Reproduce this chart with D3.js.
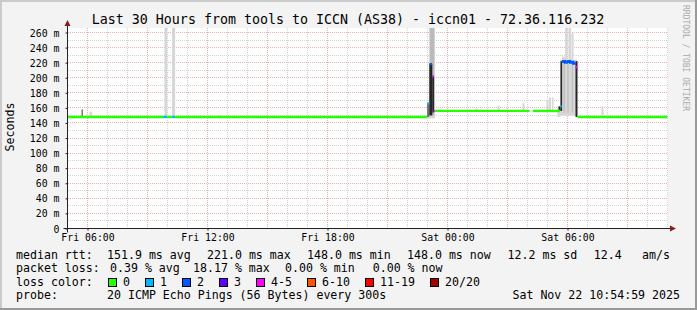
<!DOCTYPE html>
<html>
<head>
<meta charset="utf-8">
<script src="https://cdn.jsdelivr.net/npm/d3@7"></script>
<style>
body { margin: 0; background: #f3f3f3; }
text { font-family: "DejaVu Sans Mono", monospace; fill: #000; }
</style>
</head>
<body>
<div class="chart"></div>
<script>
// times are hours counted from Fri 00:00 (Sat 00:00 = 24)
const medTime  = [5.00, 9.78, 9.98, 10.23, 10.38, 22.99, 23.10, 23.23, 23.30, 23.37, 28.10, 28.27,
                  29.63, 29.71, 29.79, 29.88, 29.96, 30.04, 30.13, 30.21, 30.29, 30.42, 30.50];
const medValue = [148, 148, 148, 148, 148, 166, 218, 202, 156, 156, null, 156,
                  162, 221, 222, 220, 221, 222, 220, 221, 219, 214, 148];
const medLoss  = [0, 1, 0, 1, 0, 1, 2, 5, 4, 0, 0, 0,
                  1, 2, 2, 2, 2, 2, 2, 2, 2, 4, 0];
const timeStart = 5, timeEnd = 35;

// smoke (spread of the 20 pings), shade 0 = light .. 3 = dense
const smokeFrom  = [5.70, 6.10, 6.33, 9.53, 9.85, 10.23, 12.58, 14.23, 22.98, 23.08, 23.13, 22.98, 23.09, 23.24,
                    25.40, 26.50, 27.75, 28.95, 29.08, 29.23, 29.50, 29.55, 29.63, 29.73, 29.88, 30.05, 30.20,
                    29.80, 30.00, 30.22, 29.65, 30.40, 31.70];
const smokeTo    = [5.77, 6.23, 6.48, 9.73, 9.98, 10.38, 12.68, 14.43, 23.38, 23.38, 23.33, 23.09, 23.24, 23.33,
                    25.50, 26.60, 27.85, 29.05, 29.18, 29.30, 29.65, 29.65, 30.48, 29.88, 30.00, 30.18, 30.30,
                    29.86, 30.05, 30.27, 29.73, 30.50, 31.80];
const smokeLo    = [148, 148, 148, 148, 148, 148, 148, 148, 146, 148, 150, 148, 150, 154,
                    156, 156, 156, 156, 156, 156, 148, 156, 150, 150, 150, 150, 150,
                    154, 154, 154, 156, 148, 148];
const smokeHi    = [158, 155, 150, 149.5, 266, 266, 150, 150, 156, 266, 266, 166, 218, 202,
                    159, 163, 166, 170, 174, 174, 162, 162, 224, 228, 266, 266, 259,
                    221, 221, 221, 222, 222, 162];
const smokeShade = [2, 0, 0, 0, 0, 0, 0, 0, 0, 0, 1, 2, 3, 3,
                    0, 0, 0, 0, 0, 0, 0, 3, 0, 0, 0, 0, 0,
                    1, 1, 1, 3, 3, 0];

const yTickValues = [0, 20, 40, 60, 80, 100, 120, 140, 160, 180, 200, 220, 240, 260];
const xTickHours  = [6, 12, 18, 24, 30];
const xTickLabels = ["Fri 06:00", "Fri 12:00", "Fri 18:00", "Sat 00:00", "Sat 06:00"];

const rttStats     = [151.9, 221.0, 148.0, 148.0, 12.2];
const rttStatNames = ["avg", "max", "min", "now", "sd"];
const rttAmps      = 12.4;
const lossStats     = [0.39, 18.17, 0.00, 0.00];
const lossStatNames = ["avg", "max", "min", "now"];
const lossLabels = ["0", "1", "2", "3", "4-5", "6-10", "11-19", "20/20"];
const lossColors = ["#26ff00", "#00b8ff", "#0059ff", "#5e00ff", "#ff00ff", "#ff5500", "#ff0000", "#a00000"];
const lossBreaks = [1, 2, 3, 4, 6, 11, 20];

const titleText = "Last 30 Hours from tools to ICCN (AS38) - iccn01 - 72.36.116.232";
const probeText = "20 ICMP Echo Pings (56 Bytes) every 300s";
const dateText  = "Sat Nov 22 10:54:59 2025";

// ---------------------------------------------------------------
const W = 697, H = 310;
const base = new Date(2025, 10, 21);
const hr = h => new Date(base.getTime() + h * 3600e3);

const x = d3.scaleTime().domain([hr(timeStart), hr(timeEnd)]).range([67.5, 667.5]);
const y = d3.scaleLinear().domain([0, 266]).range([228.5, 28]);
const lossColor = d3.scaleThreshold().domain(lossBreaks).range(lossColors);
const shadeColor = ["#d6d6d6", "#bababa", "#6e6e6e", "#262626"];

const svg = d3.select(".chart").append("svg")
    .attr("width", W)
    .attr("height", H);

// background + shaded frame
svg.append("rect").attr("width", W).attr("height", H).attr("fill", "#f3f3f3");
svg.append("rect").attr("width", W).attr("height", 2).attr("fill", "#cbcbcb");
svg.append("rect").attr("width", 2).attr("height", H).attr("fill", "#cbcbcb");
svg.append("rect").attr("y", H - 2).attr("width", W).attr("height", 2).attr("fill", "#999");
svg.append("rect").attr("x", W - 2).attr("width", 2).attr("height", H).attr("fill", "#999");

// canvas
svg.append("rect")
    .attr("x", x.range()[0] - 0.5)
    .attr("y", y.range()[1])
    .attr("width", x.range()[1] - x.range()[0] + 1)
    .attr("height", y.range()[0] - y.range()[1])
    .attr("fill", "#fff");

// grid (dotted, red for major)
const grid = svg.append("g").attr("shape-rendering", "crispEdges").attr("stroke-dasharray", "1,1");
const hourTicks = x.ticks(d3.timeHour.every(1)).filter(d => +d > +hr(timeStart));
grid.selectAll(".vg").data(hourTicks).enter().append("line")
    .attr("x1", d => x(d)).attr("x2", d => x(d))
    .attr("y1", y.range()[1]).attr("y2", y(0))
    .attr("stroke", d => d.getHours() % 3 === 0 ? "#e9b3b3" : "#d4d4d4");
grid.selectAll(".hg").data(d3.range(10, 261, 10)).enter().append("line")
    .attr("x1", x.range()[0]).attr("x2", x.range()[1])
    .attr("y1", d => y(d)).attr("y2", d => y(d))
    .attr("stroke", d => d % 20 === 0 ? "#e9b3b3" : "#d4d4d4");

// smoke
const smoke = smokeFrom.map((f, i) => ({ from: f, to: smokeTo[i], lo: smokeLo[i], hi: smokeHi[i], shade: smokeShade[i] }))
    .sort((a, b) => a.shade - b.shade);
svg.append("g").selectAll("rect").data(smoke).enter().append("rect")
    .attr("x", d => x(hr(d.from)))
    .attr("width", d => x(hr(d.to)) - x(hr(d.from)))
    .attr("y", d => y(d.hi))
    .attr("height", d => y(d.lo) - y(d.hi))
    .attr("fill", d => shadeColor[d.shade]);

// median line, split into runs of equal loss
const runs = [];
let cur = null;
medTime.forEach((t, i) => {
    const t1 = i < medTime.length - 1 ? medTime[i + 1] : timeEnd;
    if (medValue[i] == null) { cur = null; return; }
    if (!cur || cur.loss !== medLoss[i]) {
        cur = { loss: medLoss[i], pts: [] };
        runs.push(cur);
    }
    cur.pts.push([t, medValue[i]], [t1, medValue[i]]);
});
const line = d3.line().x(d => x(hr(d[0]))).y(d => y(d[1]));
svg.append("g").selectAll("path").data(runs).enter().append("path")
    .attr("d", d => line(d.pts))
    .attr("fill", "none")
    .attr("stroke", d => lossColor(d.loss))
    .attr("stroke-width", 2.4);

// axes
const yAxis = d3.axisLeft(y).tickValues(yTickValues)
    .tickFormat(d => d === 0 ? "0" : d + " m")
    .tickSizeInner(2).tickSizeOuter(0).tickPadding(6);
const gy = svg.append("g").attr("transform", "translate(" + x.range()[0] + ",0)").call(yAxis);
gy.select(".domain").remove();
gy.selectAll("line").attr("stroke", "#222");
gy.selectAll("text").style("font-size", "9.85px").attr("dy", "0.36em");

const xAxis = d3.axisBottom(x).tickValues(xTickHours.map(hr))
    .tickFormat((d, i) => xTickLabels[i])
    .tickSizeInner(2).tickSizeOuter(0).tickPadding(4);
const gx = svg.append("g").attr("transform", "translate(0," + y(0) + ")").call(xAxis);
gx.select(".domain").remove();
gx.selectAll("line").attr("stroke", "#222");
gx.selectAll("text").style("font-size", "9.85px");

svg.append("line").attr("x1", x.range()[0]).attr("x2", x.range()[0])
    .attr("y1", y(0) + 4).attr("y2", 25).attr("stroke", "#222");
svg.append("line").attr("x1", x.range()[0] - 4).attr("x2", 670)
    .attr("y1", y(0)).attr("y2", y(0)).attr("stroke", "#222");
svg.append("path").attr("fill", "#8b1c1c")
    .attr("d", "M" + (x.range()[0] - 3) + ",26L" + (x.range()[0] + 3) + ",26L" + x.range()[0] + ",20Z");
svg.append("path").attr("fill", "#8b1c1c")
    .attr("d", "M670," + (y(0) - 3) + "L670," + (y(0) + 3) + "L676," + y(0) + "Z");

// titles
svg.append("text").attr("x", 348).attr("y", 23.5).attr("text-anchor", "middle")
    .style("font-size", "13.3px").text(titleText);
svg.append("text").attr("transform", "translate(14,127) rotate(-90)").attr("text-anchor", "middle")
    .style("font-size", "11.6px").text("Seconds");
svg.append("text").attr("transform", "translate(683,5) rotate(90)")
    .style("font-size", "8px").style("fill", "#aaa").text("RRDTOOL / TOBI OETIKER");

// legend
const leg = svg.append("g").style("font-size", "11.6px").attr("xml:space", "preserve");
const rowY = [258.5, 272, 285.5, 299];
const rttX = [107, 207, 307, 407, 507.5];
const lossX = [110, 193, 285, 372.7];

leg.append("text").attr("x", 16).attr("y", rowY[0]).text("median rtt:");
leg.selectAll(".rtt").data(rttStats).enter().append("text")
    .attr("x", (d, i) => rttX[i]).attr("y", rowY[0])
    .text((d, i) => d3.format(".1f")(d) + " ms " + rttStatNames[i]);
leg.append("text").attr("x", 593.7).attr("y", rowY[0]).text(d3.format(".1f")(rttAmps));
leg.append("text").attr("x", 642).attr("y", rowY[0]).text("am/s");

leg.append("text").attr("x", 16).attr("y", rowY[1]).text("packet loss:");
leg.selectAll(".loss").data(lossStats).enter().append("text")
    .attr("x", (d, i) => lossX[i]).attr("y", rowY[1])
    .text((d, i) => d3.format(".2f")(d) + " % " + lossStatNames[i]);

leg.append("text").attr("x", 16).attr("y", rowY[2]).text("loss color:");
let bx = 108;
lossLabels.forEach((lab, i) => {
    leg.append("rect").attr("x", bx + 0.5).attr("y", 278).attr("width", 8).attr("height", 8)
        .attr("fill", lossColors[i]).attr("stroke", "#000").attr("shape-rendering", "crispEdges");
    leg.append("text").attr("x", bx + 15).attr("y", rowY[2]).text(lab);
    bx += 15 + lab.length * 7 + 15;
});

leg.append("text").attr("x", 16).attr("y", rowY[3]).text("probe:");
leg.append("text").attr("x", 107).attr("y", rowY[3]).text(probeText);
leg.append("text").attr("x", 680).attr("y", rowY[3]).attr("text-anchor", "end").text(dateText);
</script>
</body>
</html>
